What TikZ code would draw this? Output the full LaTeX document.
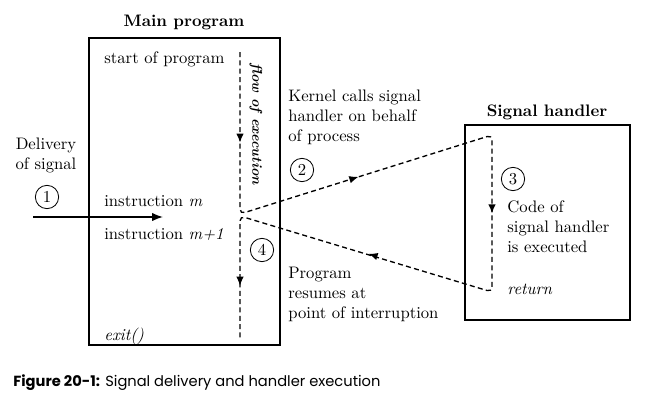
\documentclass[tikz,border=0pt]{standalone}
\usepackage{fontspec}
\newfontfamily\capfont{Poppins}
\usetikzlibrary{arrows.meta,calc}

\tikzset{
  num/.style={draw,circle,line width=0.5pt,minimum size=14pt,inner sep=0pt},
  txt/.style={anchor=north west,align=left,inner sep=0pt},
  flow/.style={line width=0.8pt,dash pattern=on 3pt off 2pt,rounded corners=3pt},
  tip/.style={-{Latex[length=5.5pt,width=4.5pt]},line width=0.8pt}
}

\begin{document}
\begin{tikzpicture}[x=0.6pt,y=-0.6pt]
\useasboundingbox (0,0) rectangle (646,403);
% boxes
\draw[line width=0.9pt] (89,38) rectangle (280,345);
\draw[line width=0.9pt] (465,125) rectangle (630,320);
\node[font=\bfseries] (maintitle) at (184,22) {Main program};
\node[font=\bfseries] (handtitle) at (547,112) {Signal handler};
% texts in main program
\node[anchor=base west,inner sep=0pt] (start) at (104,63) {start of program};
\node[anchor=base west,inner sep=0pt] (instrm) at (104,206) {instruction \textit{m}};
\node[anchor=base west,inner sep=0pt] (instrm1) at (104,239) {instruction \textit{m+1}};
\node[anchor=base west,inner sep=0pt] (exit) at (104,340) {\textit{exit()}};
\node[rotate=-90,font=\bfseries\itshape\fontsize{8.5}{10}\selectfont] (flowlabel) at (256,124) {flow of execution};
% delivery of signal
\node[anchor=north,align=center,inner sep=0pt] (delivery) at (46,138) {Delivery\\of signal};
\node[num] (n1) at (47,197) {1};
\coordinate (sig) at (33,217);
\coordinate (sigend) at (163,217);
\draw[-{Latex[length=6.5pt,width=5pt]},line width=0.9pt] (sig) -- (sigend);
% kernel and program
\node[txt] (kernel) at (288,90) {Kernel calls signal\\handler on behalf\\of process};
\node[num] (n2) at (302,170) {2};
\node[num] (n4) at (262,250) {4};
\node[txt] (resume) at (288,267) {Program\\resumes at\\point of interruption};
% signal handler
\node[num] (n3) at (513,179) {3};
\node[txt] (code) at (507,200) {Code of\\signal handler\\is executed};
\node[anchor=base west,inner sep=0pt] (ret) at (507,294) {\textit{return}};
% flow of execution
\coordinate (top) at (240,52);
\coordinate (apex) at (240,214);
\coordinate (htop) at (492,135);
\coordinate (hbot) at (492,292);
\coordinate (bottom) at (240,340);
\draw[flow] (top) -- (apex) -- (htop) -- (hbot) -- ($(apex)+(0,2)$) -- (bottom);
\draw[tip] ($(top)!0.54!(apex)$) -- ($(top)!0.56!(apex)$);
\draw[tip] ($(apex)!0.45!(htop)$) -- ($(apex)!0.47!(htop)$);
\draw[tip] ($(htop)!0.48!(hbot)$) -- ($(htop)!0.50!(hbot)$);
\draw[tip] ($(hbot)!0.47!(apex)$) -- ($(hbot)!0.49!(apex)$);
\draw[tip] ($(apex)!0.55!(bottom)$) -- ($(apex)!0.57!(bottom)$);
% caption
\node[anchor=west,inner sep=0pt,font=\capfont\fontsize{8.8}{10}\selectfont] (caption) at (13,383) {\textbf{Figure 20-1:} Signal delivery and handler execution};
\end{tikzpicture}
\end{document}
